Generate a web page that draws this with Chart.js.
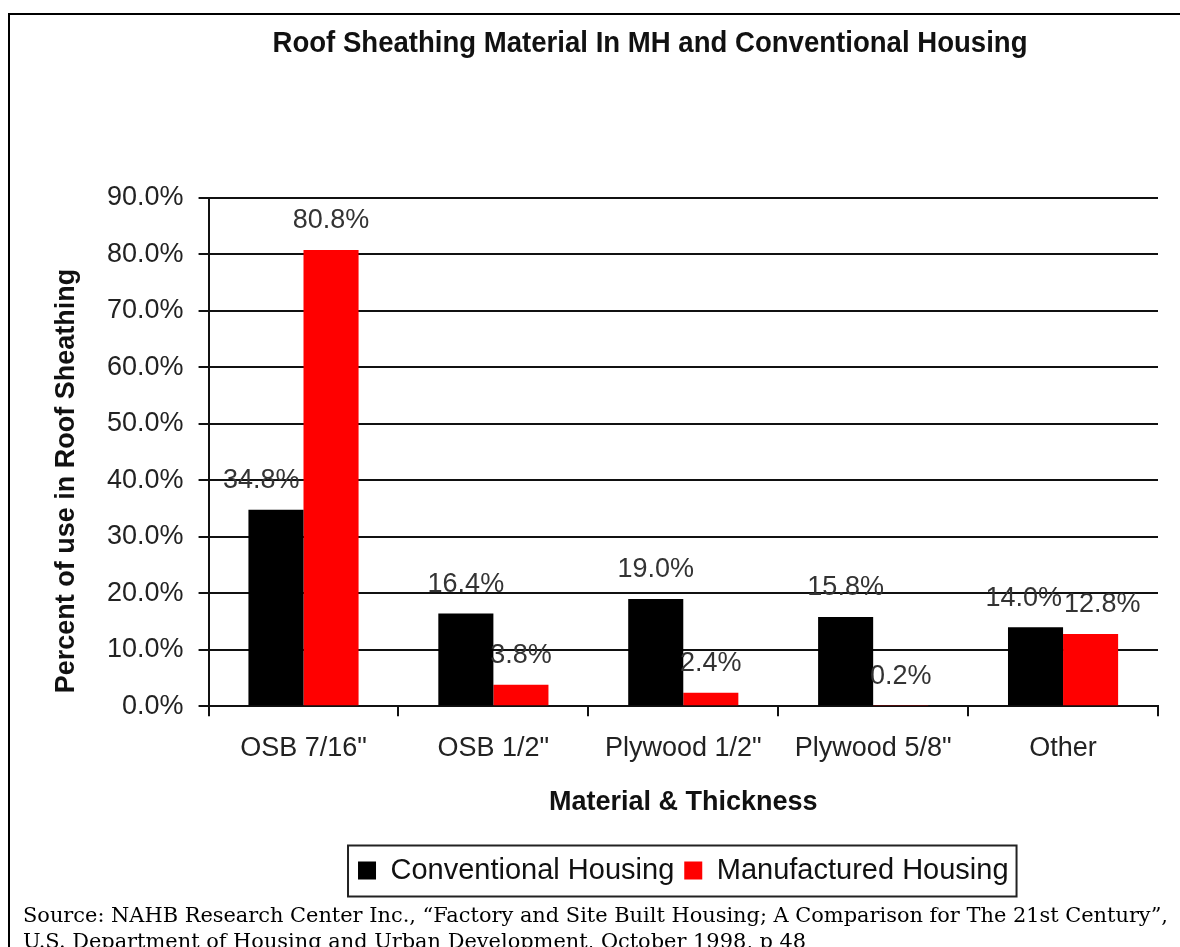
<!DOCTYPE html>
<html>
<head>
<meta charset="utf-8">
<script src="https://cdn.jsdelivr.net/npm/chart.js@4.4.0/dist/chart.umd.min.js"></script>
<style>
html,body{margin:0;padding:0;background:#fff;}
#wrap{position:relative;width:1180px;height:947px;overflow:hidden;background:#fff;}
#c{position:absolute;left:0;top:0;}
.bt{position:absolute;left:8px;top:13px;width:1172px;height:2px;background:#000;}
.bl{position:absolute;left:8px;top:13px;width:2px;height:934px;background:#000;}
#src{position:absolute;left:23px;top:902px;font-family:'DejaVu Serif',serif;font-size:20px;line-height:26px;color:#000;white-space:nowrap;}
#src span{display:inline-block;transform-origin:0 0;}
</style>
</head>
<body>
<div id="wrap">
  <canvas id="c" width="1180" height="947"></canvas>
  <div class="bt"></div><div class="bl"></div>
  <div id="src"><div><span id="l1">Source: NAHB Research Center Inc., “Factory and Site Built Housing; A Comparison for The 21st Century”,</span></div><div><span id="l2">U.S. Department of Housing and Urban Development, October 1998, p 48</span></div></div>
</div>
<script>
// ---- data ----
const categories = ['OSB 7/16"', 'OSB 1/2"', 'Plywood 1/2"', 'Plywood 5/8"', 'Other'];
const conventional = [34.8, 16.4, 19.0, 15.8, 14.0];
const manufactured = [80.8, 3.8, 2.4, 0.2, 12.8];
const seriesNames = ['Conventional Housing', 'Manufactured Housing'];
const yMin = 0, yMax = 90, yStep = 10;
const chartTitle = 'Roof Sheathing Material In MH and Conventional Housing';
const xTitle = 'Material & Thickness';
const yTitle = 'Percent of use in Roof Sheathing';

const FAM = '"Liberation Sans", Arial, Helvetica, sans-serif';
Chart.defaults.font.family = FAM;

const fmt = v => v.toFixed(1) + '%';

// fit source lines
(function(){
  const l1 = document.getElementById('l1'), l2 = document.getElementById('l2');
  const w = l1.getBoundingClientRect().width;
  const s = 1145 / w;
  l1.style.transform = 'scaleX(' + s + ')';
  l2.style.transform = 'scaleX(' + s + ')';
})();

const valueLabels = {
  id: 'valueLabels',
  afterDatasetsDraw(chart) {
    const ctx = chart.ctx;
    ctx.save();
    ctx.font = '27px ' + FAM;
    ctx.fillStyle = '#333';
    ctx.textAlign = 'center';
    ctx.textBaseline = 'middle';
    const m0 = chart.getDatasetMeta(0), m1 = chart.getDatasetMeta(1);
    const d0 = chart.data.datasets[0].data, d1 = chart.data.datasets[1].data;
    const h = 20;
    for (let i = 0; i < d0.length; i++) {
      const b0 = m0.data[i], b1 = m1.data[i];
      const t0 = fmt(d0[i]), t1 = fmt(d1[i]);
      const w0 = ctx.measureText(t0).width, w1 = ctx.measureText(t1).width;
      let x0 = b0.x, y0 = b0.y - 29, x1 = b1.x, y1 = b1.y - 29;
      const redLeft = b1.x - b1.width / 2;
      if (b1.y < y0 + h / 2 && x0 + w0 / 2 > redLeft - 4) x0 = redLeft - 4 - w0 / 2;
      if (Math.abs(y0 - y1) < h) {
        const gap = (x1 - w1 / 2) - (x0 + w0 / 2) - 2;
        if (gap < 0) { x0 += gap / 2; x1 -= gap / 2; }
      }
      ctx.fillText(t0, x0, y0);
      ctx.fillText(t1, x1, y1);
    }
    ctx.restore();
  }
};

const titles = {
  id: 'titles',
  afterDraw(chart) {
    const ctx = chart.ctx;
    ctx.save();
    ctx.fillStyle = '#111';
    ctx.textAlign = 'center';
    ctx.textBaseline = 'middle';
    // main title
    ctx.font = 'bold 29px ' + FAM;
    const tw = ctx.measureText(chartTitle).width;
    const sx = Math.min(1, 755 / tw);
    ctx.save();
    ctx.translate(650, 44);
    ctx.scale(sx, 1);
    ctx.fillText(chartTitle, 0, 0);
    ctx.restore();
    // y axis title
    ctx.font = 'bold 27px ' + FAM;
    ctx.save();
    ctx.translate(67, 481);
    ctx.rotate(-Math.PI / 2);
    ctx.fillText(yTitle, 0, 0);
    ctx.restore();
    // legend frame
    const lg = chart.legend;
    if (lg && lg.legendHitBoxes && lg.legendHitBoxes.length) {
      let minX = Infinity, maxX = -Infinity, minY = Infinity, maxY = -Infinity;
      lg.legendHitBoxes.forEach(hb => {
        minX = Math.min(minX, hb.left); maxX = Math.max(maxX, hb.left + hb.width);
        minY = Math.min(minY, hb.top); maxY = Math.max(maxY, hb.top + hb.height);
      });
      const cy = (minY + maxY) / 2;
      ctx.strokeStyle = '#222';
      ctx.lineWidth = 2;
      ctx.strokeRect(minX - 10, cy - 25, (maxX - minX) + 18, 51);
    }
    ctx.restore();
  }
};

new Chart(document.getElementById('c'), {
  type: 'bar',
  data: {
    labels: categories,
    datasets: [
      { label: seriesNames[0], data: conventional, backgroundColor: '#000000', borderWidth: 0 },
      { label: seriesNames[1], data: manufactured, backgroundColor: '#ff0000', borderWidth: 0 }
    ]
  },
  options: {
    responsive: false,
    devicePixelRatio: 1,
    animation: false,
    layout: { padding: { left: 92, right: 22, top: 198, bottom: 52 } },
    datasets: { bar: { categoryPercentage: 0.58, barPercentage: 1.0 } },
    plugins: {
      title: { display: false },
      tooltip: { enabled: false },
      legend: {
        display: true,
        position: 'bottom',
        fullSize: false,
        labels: {
          boxWidth: 18, boxHeight: 18, padding: 10,
          color: '#111',
          font: { size: 29, family: FAM }
        }
      }
    },
    scales: {
      x: {
        grid: { display: true, drawOnChartArea: false, drawTicks: true, tickLength: 10, offset: true, color: '#111', lineWidth: 2 },
        border: { display: true, color: '#111', width: 2 },
        ticks: { color: '#222', font: { size: 27 }, padding: 16, maxRotation: 0, autoSkip: false },
        title: { display: true, text: xTitle, color: '#111', font: { size: 27, weight: 'bold' }, padding: { top: 6, bottom: 27 } }
      },
      y: {
        min: yMin, max: yMax,
        ticks: { stepSize: yStep, callback: v => fmt(v), color: '#222', font: { size: 27 }, padding: 15 },
        grid: { color: '#111', lineWidth: 2, tickLength: 10, drawTicks: true },
        border: { display: true, color: '#111', width: 2 }
      }
    }
  },
  plugins: [valueLabels, titles]
});
</script>
</body>
</html>
